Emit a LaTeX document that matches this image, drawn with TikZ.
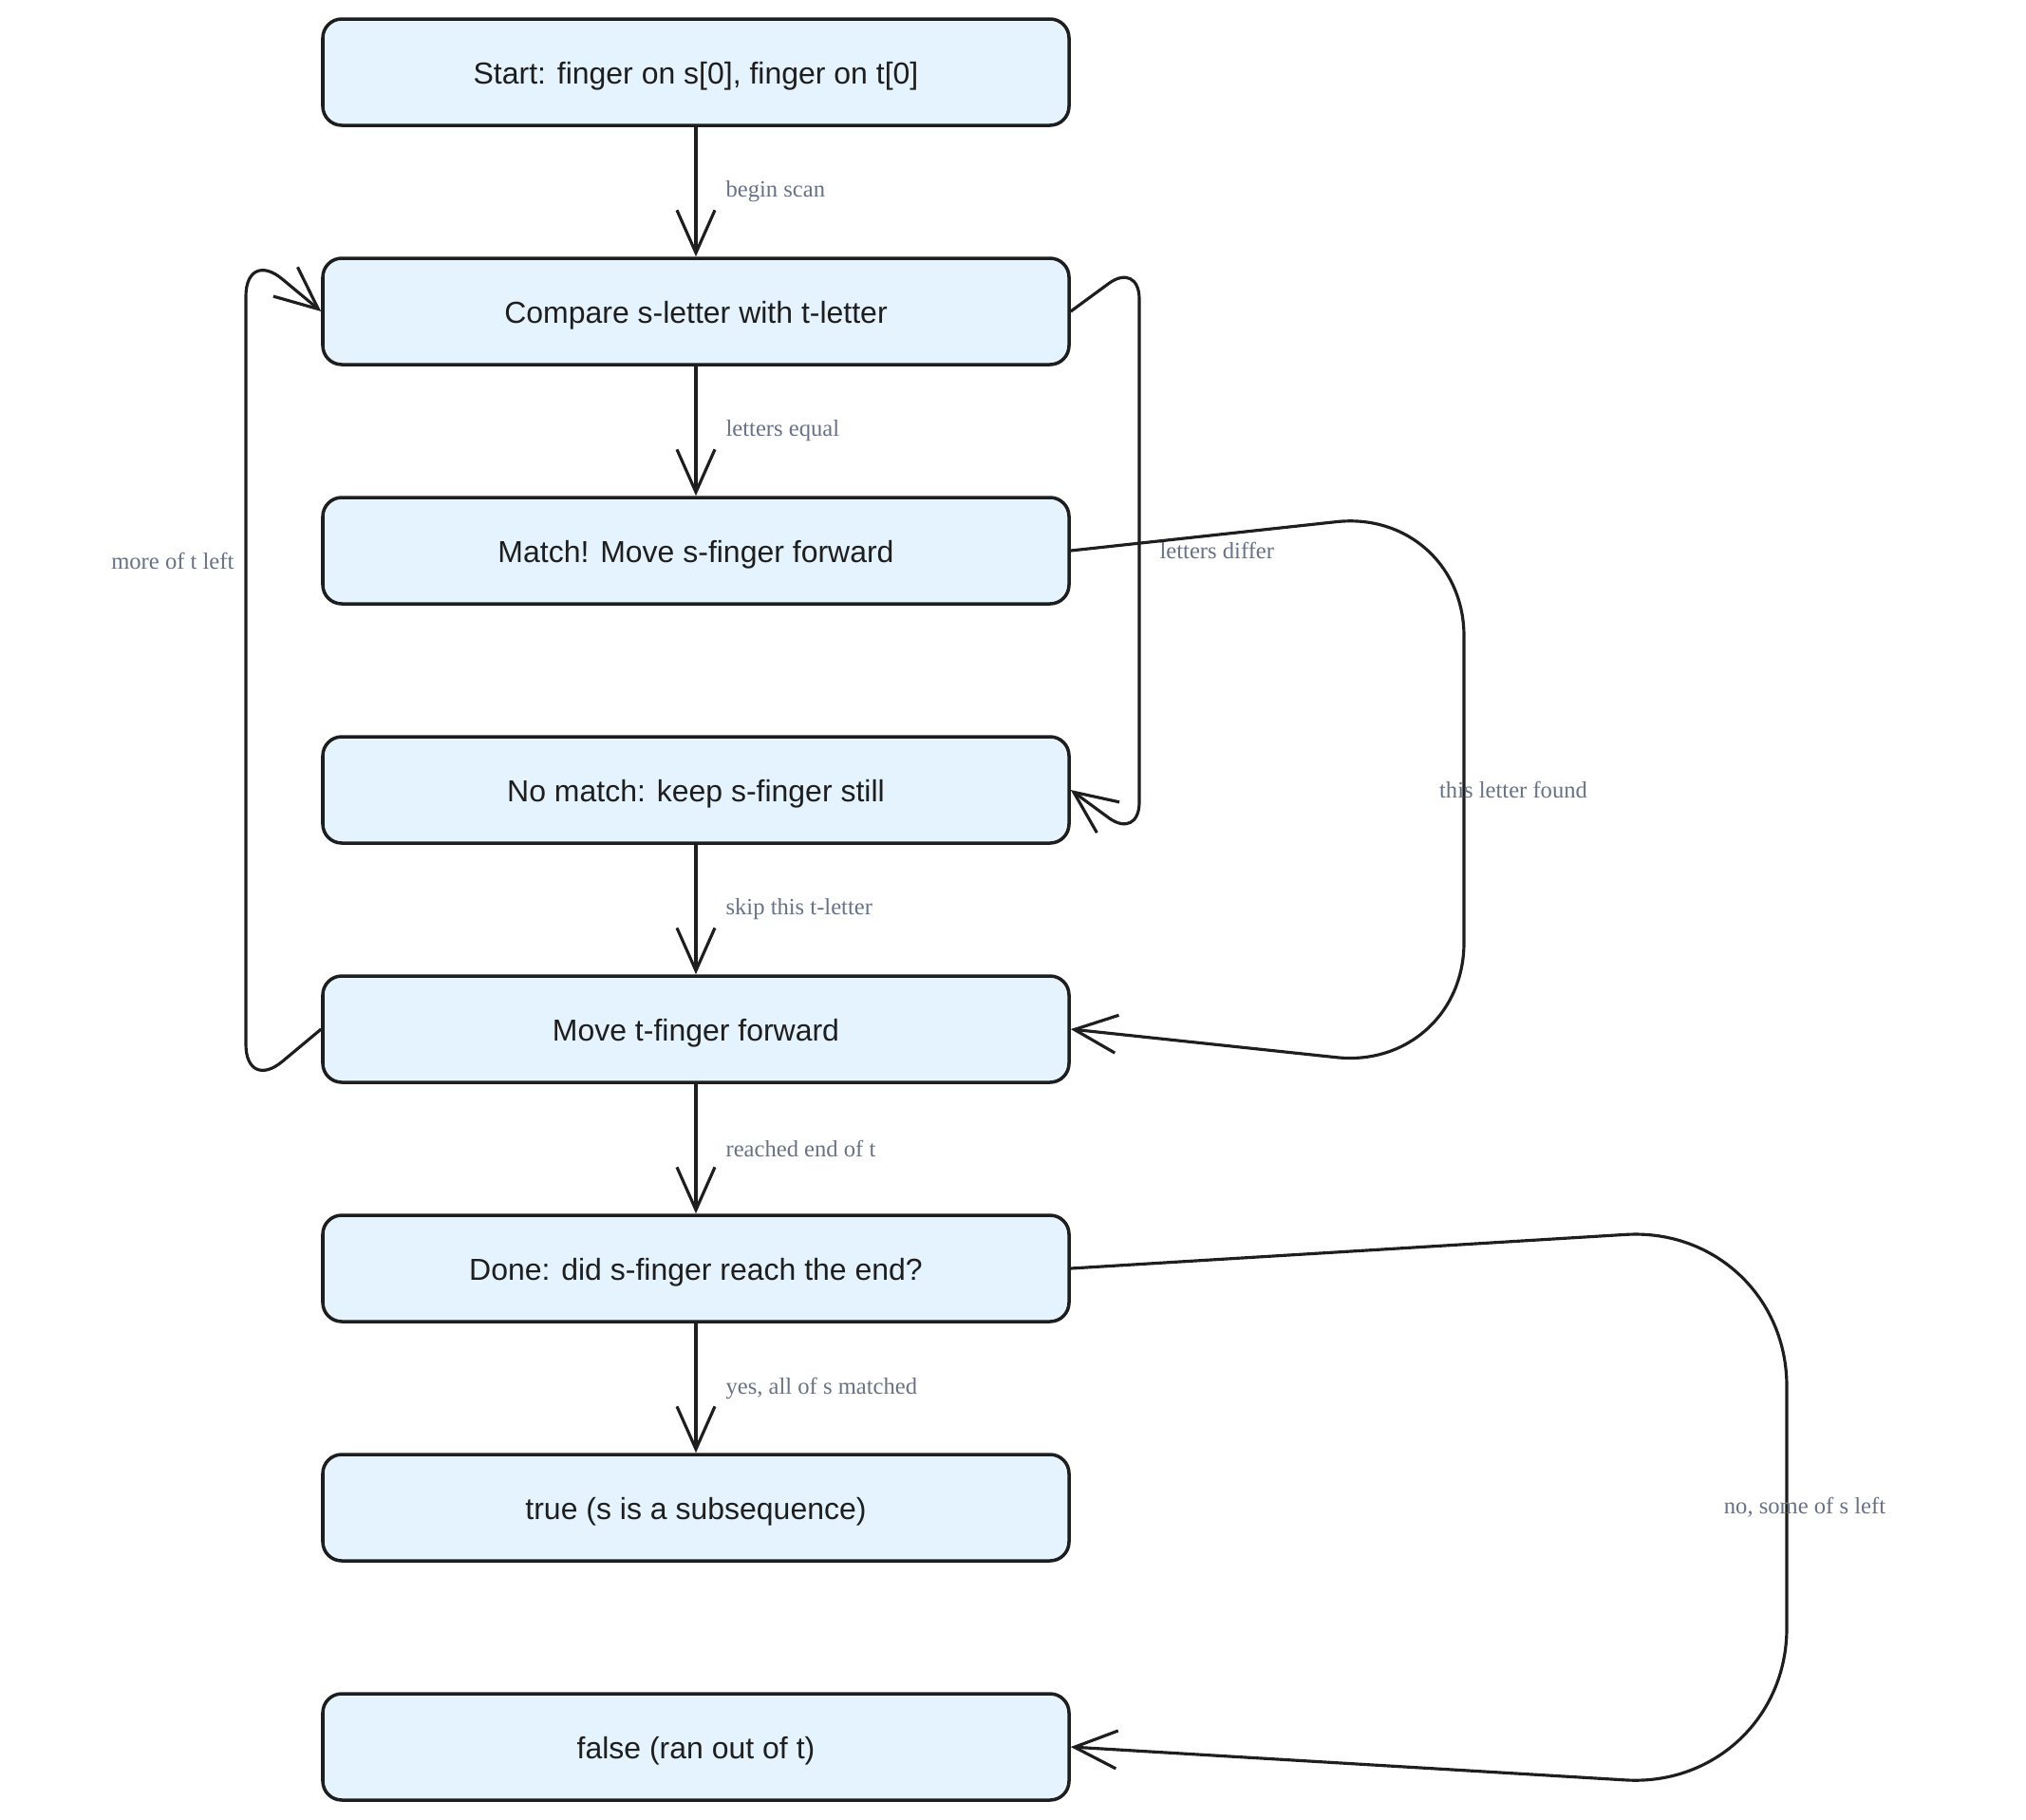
\documentclass[tikz,border=0pt]{standalone}
\usepackage{xcolor}
\usepackage{fontspec}
\setmainfont{Liberation Serif}
\newfontfamily\boxfont{Liberation Sans}
\usetikzlibrary{arrows.meta}
\definecolor{boxblue}{HTML}{E4F3FD}
\definecolor{inkdark}{HTML}{1E1E1E}
\definecolor{labelgray}{HTML}{687285}

\begin{document}
\begin{tikzpicture}[
  box/.style={draw=inkdark, line width=2pt, rounded corners=0.4cm, fill=boxblue,
    minimum width=15.72cm, minimum height=2.24cm, text=inkdark,
    text height=15pt, text depth=1.2pt,
    font=\boxfont\fontsize{18.2}{22}\selectfont},
  flow/.style={draw=inkdark, line width=1.8pt, -{Straight Barb[length=0.9cm,width=0.8cm]}},
  lbl/.style={text=labelgray, font=\fontsize{14}{17}\selectfont, inner sep=0pt}
]
\useasboundingbox (0,0) rectangle (42.68,-38.32);

\node[box] (start) at (14.66,-1.52) {Start: finger on s[0], finger on t[0]};
\node[box] (compare) at (14.66,-6.56) {Compare s-letter with t-letter};
\node[box] (match) at (14.66,-11.60) {Match! Move s-finger forward};
\node[box] (nomatch) at (14.66,-16.64) {No match: keep s-finger still};
\node[box] (move) at (14.66,-21.68) {Move t-finger forward};
\node[box] (done) at (14.66,-26.72) {Done: did s-finger reach the end?};
\node[box] (yes) at (14.66,-31.76) {true (s is a subsequence)};
\node[box] (no) at (14.66,-36.80) {false (ran out of t)};

\draw[flow] (start) -- node[lbl, anchor=west, xshift=0.6cm] {begin scan} (compare);
\draw[flow] (compare) -- node[lbl, anchor=west, xshift=0.6cm] {letters equal} (match);
\draw[flow] (nomatch) -- node[lbl, anchor=west, xshift=0.6cm] {skip this t-letter} (move);
\draw[flow] (move) -- node[lbl, anchor=west, xshift=0.6cm] {reached end of t} (done);
\draw[flow] (done) -- node[lbl, anchor=west, xshift=0.6cm] {yes, all of s matched} (yes);

\draw[flow, rounded corners=0.8cm] (compare.east) -- (24.0,-5.5) --
  node[lbl, pos=0.5, anchor=west, xshift=0.4cm] {letters differ} (24.0,-17.7) -- (nomatch.east);
\draw[flow, rounded corners=2.7cm] (match.east) -- (30.84,-10.7) --
  node[lbl, pos=0.5, xshift=1.04cm] {this letter found} (30.84,-22.56) -- (move.east);
\draw[flow, rounded corners=1cm] (move.west) -- (5.18,-23.0) --
  node[lbl, pos=0.63, anchor=east, xshift=-0.22cm] {more of t left} (5.18,-5.24) -- (compare.west);
\draw[flow, rounded corners=3.4cm] (done.east) -- (37.64,-25.8) --
  node[lbl, pos=0.5, xshift=0.38cm] {no, some of s left} (37.64,-37.7) -- (no.east);
\end{tikzpicture}
\end{document}
